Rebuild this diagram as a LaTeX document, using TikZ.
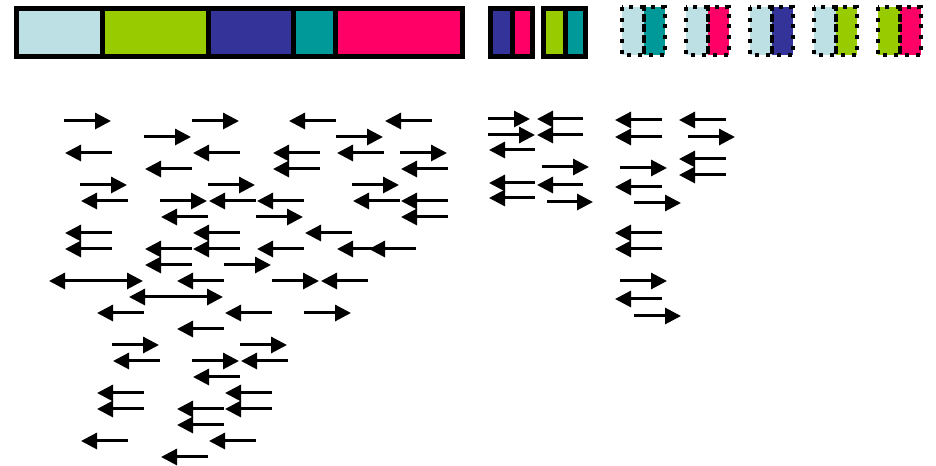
\documentclass[tikz,border=0pt]{standalone}
\usetikzlibrary{arrows.meta}

\definecolor{iceblue}{RGB}{189,224,228}
\definecolor{limegreen}{RGB}{153,204,0}
\definecolor{indigo}{RGB}{51,51,153}
\definecolor{tealgreen}{RGB}{0,153,153}
\definecolor{hotpink}{RGB}{255,0,102}

\begin{document}
\begin{tikzpicture}[x=0.75pt, y=-0.75pt,
  flow/.style={line width=2.25pt, -{Triangle[length=12pt,width=12pt]}},
  twoway/.style={line width=2.25pt, {Triangle[length=12pt,width=12pt]}-{Triangle[length=12pt,width=12pt]}},
  cell/.style={draw=black, line width=3.75pt},
  dotcell/.style={draw=black, line width=3pt, dash pattern=on 3pt off 5pt}]
  \useasboundingbox (0,0) rectangle (936,466);

  % Colour bar
  \foreach \xa/\xb/\col in {16.5/102/iceblue, 102/208/limegreen, 208/293/indigo,
                            293/335/tealgreen, 335/462.5/hotpink}
    \draw[cell, fill=\col] (\xa,8.5) rectangle (\xb,56.5);

  % Solid pairs
  \foreach \xa/\ca/\cb in {490.5/indigo/hotpink, 543.5/limegreen/tealgreen} {
    \draw[cell, fill=\ca] (\xa,8.5) rectangle (\xa+21.5,56.5);
    \draw[cell, fill=\cb] (\xa+21.5,8.5) rectangle (\xa+42,56.5);
  }

  % Dotted pairs
  \foreach \xa/\ca/\cb in {622/iceblue/tealgreen, 686/iceblue/hotpink, 750/iceblue/indigo,
                           814/iceblue/limegreen, 878/limegreen/hotpink} {
    \fill[\ca] (\xa,7) rectangle (\xa+21.5,55);
    \fill[\cb] (\xa+21.5,7) rectangle (\xa+43,55);
    \draw[dotcell] (\xa,7) rectangle (\xa+21.5,55);
    \draw[dotcell] (\xa+21.5,7) rectangle (\xa+43,55);
  }

  % Left block: arrows to the right (start/tip/row)
  \foreach \xa/\xb/\y in {64/111/121, 192/239/121, 144/191/137, 336/383/137,
                          400/447/153, 80/127/185, 208/255/185, 352/399/185,
                          160/207/201, 256/303/217, 224/271/265, 272/319/281,
                          304/351/313, 112/159/345, 240/287/345, 192/239/361}
    \draw[flow] (\xa,\y) -- (\xb,\y);

  % Left block: arrows to the left (tip/row)
  \foreach \xb/\y in {288/121, 384/121, 64/153, 192/153, 272/153, 336/153,
                      144/169, 272/169, 400/169, 80/201, 208/201, 256/201,
                      352/201, 400/201, 160/217, 400/217, 64/233, 192/233,
                      304/233, 64/249, 144/249, 192/249, 256/249, 336/249,
                      368/249, 144/265, 176/281, 320/281, 96/313, 224/313,
                      176/329, 112/361, 240/361, 192/377, 96/393, 224/393,
                      96/409, 176/409, 224/409, 176/425, 80/441, 208/441,
                      160/457}
    \draw[flow] (\xb+48,\y) -- (\xb+1,\y);

  % Both ways
  \draw[twoway] (49,281) -- (143,281);
  \draw[twoway] (129,297) -- (223,297);

  % Middle block
  \foreach \xa/\xb/\y in {488/530/119, 488/535/135, 542/589/167, 547/593/202,
                          583/537/119, 583/537/135, 535/489/150, 535/489/183,
                          583/537/185, 535/489/198}
    \draw[flow] (\xa,\y) -- (\xb,\y);

  % Right block
  \foreach \xa/\xb/\y in {688/735/137, 620/667/168, 634/681/203, 620/667/281,
                          634/681/316, 662/615/120, 662/615/137, 726/679/120,
                          726/679/159, 726/679/175, 662/615/187, 662/615/233,
                          662/615/249, 662/615/299}
    \draw[flow] (\xa,\y) -- (\xb,\y);
\end{tikzpicture}
\end{document}
